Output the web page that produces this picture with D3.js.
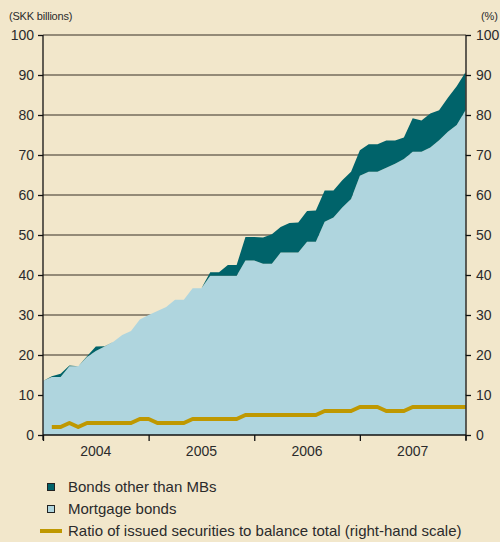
<!DOCTYPE html>
<html>
<head>
<meta charset="utf-8">
<script src="https://cdn.jsdelivr.net/npm/d3@7"></script>
<style>
  body { margin: 0; background: #f2e7cb; }
  svg { display: block; font-family: "Liberation Sans", Arial, sans-serif; }
</style>
</head>
<body>
<div id="viz"></div>
<script>
const width = 500;
const height = 542;
const margin = {top: 35, right: 34, bottom: 107, left: 43};

// month-end values, Dec 2003 .. Dec 2007 (SKK billions)
const mortgageBonds = [13.5, 14.5, 14.5, 17.2, 17.2, 19.5, 21, 22.1, 23.3, 25, 26, 28.9, 30,
  31, 32, 33.8, 33.8, 36.7, 36.7, 39.8, 39.8, 39.8, 39.8, 43.6, 43.6,
  42.8, 42.8, 45.6, 45.6, 45.6, 48.3, 48.3, 53.3, 54.4, 56.9, 59, 64.8,
  65.8, 65.8, 66.8, 67.8, 69, 70.8, 70.8, 71.9, 73.7, 75.8, 77.5, 81.2];
const otherBonds = [0, 0.2, 0.8, 0.2, 0, 0.2, 1.1, 0.1, 0, 0, 0, 0, 0,
  0, 0, 0, 0, 0, 0, 0.9, 0.9, 2.7, 2.7, 5.9, 5.9,
  6.6, 7.4, 6.4, 7.4, 7.5, 7.7, 7.8, 7.8, 6.7, 6.8, 6.8, 6.4,
  6.9, 6.9, 6.8, 5.8, 5.4, 8.4, 7.8, 8.5, 7.5, 8.5, 9.7, 9.5];
// Jan 2004 .. Dec 2007 (%)
const ratio = [2, 2, 3, 2, 3, 3, 3, 3, 3, 3, 4, 4,
  3, 3, 3, 3, 4, 4, 4, 4, 4, 4, 5, 5,
  5, 5, 5, 5, 5, 5, 5, 6, 6, 6, 6, 7,
  7, 7, 6, 6, 6, 7, 7, 7, 7, 7, 7, 7];
const years = ['2004', '2005', '2006', '2007'];
const yTicks = [0, 10, 20, 30, 40, 50, 60, 70, 80, 90, 100];

const colorOther = '#00636a';
const colorMortgage = '#afd5de';
const colorRatio = '#bf9800';
const colorGrid = '#746c5c';
const colorText = '#2b2b2b';

const data = mortgageBonds.map((m, i) => ({i: i, mortgage: m, other: otherBonds[i]}));
const stack = d3.stack().keys(['mortgage', 'other'])(data);

const xScale = d3.scaleLinear()
  .domain([0, 48])
  .range([margin.left, width - margin.right - 0.5]);
const yScale = d3.scaleLinear()
  .domain([0, 100])
  .range([height - margin.bottom, margin.top]);
const y2Scale = d3.scaleLinear()
  .domain([0, 100])
  .range([height - margin.bottom, margin.top]);

const svg = d3.select('#viz')
  .append('svg')
    .attr('width', width)
    .attr('height', height);

svg.append('rect')
  .attr('width', width)
  .attr('height', height)
  .attr('fill', '#f2e7cb');

// gridlines
svg.append('g')
  .selectAll('line')
  .data(yTicks.slice(1))
  .join('line')
    .attr('x1', margin.left)
    .attr('x2', width - margin.right)
    .attr('y1', d => yScale(d))
    .attr('y2', d => yScale(d))
    .attr('stroke', colorGrid)
    .attr('stroke-width', 1.4);

const area = d3.area()
  .x(d => xScale(d.data.i))
  .y0(d => yScale(d[0]))
  .y1(d => yScale(d[1]));

svg.append('g')
  .selectAll('path')
  .data(stack)
  .join('path')
    .attr('d', area)
    .attr('fill', d => d.key === 'mortgage' ? colorMortgage : colorOther);

// ratio line (right-hand scale)
const line = d3.line()
  .x((d, i) => xScale(i + 1))
  .y(d => y2Scale(d));

svg.append('path')
  .attr('d', line(ratio))
  .attr('fill', 'none')
  .attr('stroke', colorRatio)
  .attr('stroke-width', 4)
  .attr('stroke-linejoin', 'round');

// axes
const leftAxis = svg.append('g')
  .attr('transform', `translate(${margin.left},0)`)
  .call(d3.axisLeft(yScale).tickValues(yTicks).tickSize(5).tickPadding(4).tickFormat(d3.format('d')));

const rightAxis = svg.append('g')
  .attr('transform', `translate(${width - margin.right},0)`)
  .call(d3.axisRight(y2Scale).tickValues(yTicks).tickSize(5).tickPadding(5).tickFormat(d3.format('d')));

const bottomAxis = svg.append('g')
  .attr('transform', `translate(0,${height - margin.bottom})`)
  .call(d3.axisBottom(xScale).tickValues([0, 12, 24, 36, 48]).tickSize(6).tickFormat(''));

[leftAxis, rightAxis, bottomAxis].forEach(g => {
  g.select('.domain').attr('stroke', '#111').attr('stroke-width', 1.3);
  g.selectAll('.tick line').attr('stroke', '#111').attr('stroke-width', 1.3);
  g.selectAll('.tick text')
    .attr('fill', colorText)
    .style('font-size', '14px');
});
leftAxis.select('.domain').attr('d', `M0,${margin.top}V${height - margin.bottom + 5}`);
rightAxis.select('.domain').attr('d', `M0,${margin.top}V${height - margin.bottom + 5}`);
bottomAxis.select('.domain').attr('d', `M${margin.left},0H${width - margin.right}`);

svg.append('g')
  .selectAll('text')
  .data(years)
  .join('text')
    .attr('x', (d, i) => xScale(i * 12 + 6))
    .attr('y', height - margin.bottom + 21)
    .attr('text-anchor', 'middle')
    .attr('fill', colorText)
    .style('font-size', '14px')
    .text(d => d);

svg.append('text')
  .attr('x', 9)
  .attr('y', 20)
  .attr('fill', colorText)
  .style('font-size', '11px')
  .style('letter-spacing', '-0.2px')
  .text('(SKK billions)');

svg.append('text')
  .attr('x', 498)
  .attr('y', 20)
  .attr('text-anchor', 'end')
  .attr('fill', colorText)
  .style('font-size', '11px')
  .text('(%)');

// legend
const legendItems = [
  {label: 'Bonds other than MBs', type: 'box', color: colorOther},
  {label: 'Mortgage bonds', type: 'box', color: colorMortgage},
  {label: 'Ratio of issued securities to balance total (right-hand scale)', type: 'line', color: colorRatio}
];
const legend = svg.append('g');
legendItems.forEach((d, i) => {
  const cy = 487 + i * 22;
  if (d.type === 'box') {
    legend.append('rect')
      .attr('x', 47.5)
      .attr('y', cy - 3.5)
      .attr('width', 7)
      .attr('height', 7)
      .attr('fill', d.color)
      .attr('stroke', '#222')
      .attr('stroke-width', 1);
  } else {
    legend.append('line')
      .attr('x1', 40)
      .attr('x2', 62)
      .attr('y1', cy)
      .attr('y2', cy)
      .attr('stroke', d.color)
      .attr('stroke-width', 4);
  }
  legend.append('text')
    .attr('x', 68)
    .attr('y', cy + 5)
    .attr('fill', colorText)
    .style('font-size', '15px')
    .text(d.label);
});
</script>
</body>
</html>
